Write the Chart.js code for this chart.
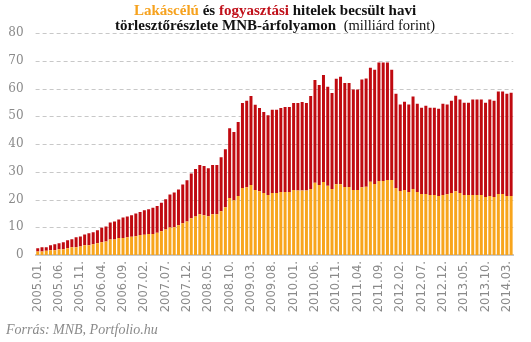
<!DOCTYPE html>
<html>
<head>
<meta charset="utf-8">
<script src="https://cdn.jsdelivr.net/npm/chart.js@4"></script>
<style>
  html, body { margin: 0; padding: 0; background: #fff; }
  #wrap { position: relative; width: 531px; height: 342px; overflow: hidden; }
  #c { position: absolute; left: 0; top: 0; }
  #title { position: absolute; left: 0; top: 3px; width: 550px; text-align: center;
           font-family: "Liberation Serif", serif; font-size: 15px; line-height: 15px; color: #111; font-weight: bold; }
  #title .h { color: #F6A21E; }
  #title .c { color: #C0101A; }
  #title .n { font-weight: normal; font-size: 14.5px; }
  #src { position: absolute; left: 6px; top: 322px; font-family: "Liberation Serif", serif; font-style: italic;
         font-size: 14px; color: #8a8a8a; }
</style>
</head>
<body>
<div id="wrap">
  <canvas id="c" width="531" height="342"></canvas>
  <div id="title"><span class="h">Lakáscélú</span> és <span class="c">fogyasztási</span> hitelek becsült havi<br>törlesztőrészlete MNB-árfolyamon &nbsp;<span class="n">(milliárd forint)</span></div>
  <div id="src">Forrás: MNB, Portfolio.hu</div>
</div>
<script>
// Categories: monthly, 2005.01. – 2014.04.
const startYear = 2005;
const monthCount = 112;
const months = [];
for (let i = 0; i < monthCount; i++) {
  const y = startYear + Math.floor(i / 12);
  const m = (i % 12) + 1;
  months.push(y + "." + (m < 10 ? "0" + m : m) + ".");
}
const tickStep = 5;
const yTicks = [0, 10, 20, 30, 40, 50, 60, 70, 80];

// Lakáscélú (housing) monthly repayment, bn HUF
const housing = [
  1.3, 1.3, 1.5, 1.7, 1.7, 2.1, 2.1, 2.4, 2.8, 2.8, 3.1, 3.5,
  3.5, 3.9, 4.2, 4.6, 4.9, 5.6, 5.6, 6.1, 6.1, 6.4, 6.6, 6.8,
  7.2, 7.3, 7.6, 7.6, 8.0, 8.6, 9.2, 9.9, 10.0, 10.7, 11.4, 12.1,
  13.2, 13.9, 14.7, 14.3, 14.0, 14.7, 14.7, 15.8, 17.2, 20.5, 19.7, 21.3,
  24.1, 24.4, 25.2, 23.4, 23.0, 22.3, 21.6, 22.3, 22.3, 22.7, 22.7, 22.7,
  23.4, 23.2, 23.2, 23.2, 23.8, 26.0, 25.2, 26.3, 25.0, 23.8, 25.5, 25.5,
  24.5, 24.5, 23.4, 23.4, 24.4, 24.6, 26.4, 25.6, 26.7, 26.7, 27.0, 27.0,
  24.1, 23.1, 23.4, 22.7, 23.8, 22.7, 22.0, 22.0, 21.6, 21.6, 21.3, 21.6,
  21.9, 22.3, 23.0, 22.3, 21.6, 21.6, 21.6, 21.6, 21.6, 20.9, 21.3, 20.9,
  22.0, 22.0, 21.3, 21.3
];
// Fogyasztási (consumer) monthly repayment, bn HUF
const consumer = [
  1.1, 1.5, 1.3, 1.8, 2.2, 2.1, 2.5, 2.9, 2.9, 3.6, 3.6, 3.9,
  4.3, 4.3, 4.7, 5.2, 5.4, 6.1, 6.5, 6.7, 7.4, 7.5, 7.7, 8.2,
  8.3, 8.8, 8.9, 9.4, 9.7, 10.2, 10.9, 11.9, 12.5, 12.9, 14.0, 14.8,
  16.2, 17.1, 17.7, 17.8, 17.3, 17.7, 17.7, 19.4, 20.9, 25.2, 24.6, 26.6,
  30.7, 31.2, 32.1, 30.7, 30.0, 29.2, 28.8, 30.0, 30.0, 30.3, 30.6, 30.6,
  31.4, 31.6, 31.9, 31.6, 33.5, 37.1, 36.1, 38.6, 35.6, 34.6, 38.0, 38.7,
  37.5, 37.5, 36.2, 36.2, 38.8, 39.0, 41.1, 41.2, 42.7, 42.7, 42.4, 39.8,
  34.0, 31.1, 31.8, 31.5, 33.3, 31.8, 31.1, 31.8, 31.5, 31.5, 31.4, 32.9,
  32.3, 33.3, 34.4, 33.7, 33.3, 33.3, 34.4, 34.4, 34.4, 34.0, 34.7, 34.7,
  36.9, 36.9, 36.8, 37.2
];

// dashed horizontal grid lines, placed by the y scale
const dashedGrid = {
  id: 'dashedGrid',
  beforeDatasetsDraw(chart) {
    const { ctx, chartArea, scales } = chart;
    const ys = scales.y;
    ctx.save();
    ctx.strokeStyle = '#c8c8c8';
    ctx.lineWidth = 1;
    ctx.setLineDash([4, 3]);
    ys.ticks.forEach(t => {
      if (t.value === 0) return;
      const py = Math.round(ys.getPixelForValue(t.value)) + 0.5;
      ctx.beginPath();
      ctx.moveTo(chartArea.left, py);
      ctx.lineTo(chartArea.right, py);
      ctx.stroke();
    });
    ctx.restore();
  }
};

const ctx = document.getElementById('c').getContext('2d');
new Chart(ctx, {
  type: 'bar',
  data: {
    labels: months,
    datasets: [
      { label: 'Lakáscélú', data: housing, backgroundColor: '#F8A51C', borderWidth: 0,
        barPercentage: 0.7, categoryPercentage: 1.0 },
      { label: 'Fogyasztási', data: consumer, backgroundColor: '#C00A10', borderWidth: 0,
        barPercentage: 0.7, categoryPercentage: 1.0 }
    ]
  },
  plugins: [dashedGrid],
  options: {
    responsive: false,
    animation: false,
    devicePixelRatio: 1,
    layout: { padding: { top: 33, left: 0, right: 15, bottom: 0 } },
    plugins: { legend: { display: false }, title: { display: false }, tooltip: { enabled: false } },
    scales: {
      x: {
        stacked: true,
        afterFit: (s) => { s.height = 87; },
        grid: { display: false, drawTicks: false },
        border: { display: true, color: '#c8c8c8', width: 2 },
        ticks: {
          autoSkip: false, minRotation: 90, maxRotation: 90, padding: 6,
          color: '#8a8a8a', font: { family: 'DejaVu Sans', size: 11.5 },
          callback: function (v, i) { return i % tickStep === 0 ? months[i] : ''; }
        }
      },
      y: {
        stacked: true,
        min: 0, max: 80,
        afterFit: (s) => { s.width = 35.6; },
        afterBuildTicks: (s) => { s.ticks = yTicks.map(v => ({ value: v })); },
        grid: { display: false, drawTicks: false },
        border: { display: false },
        ticks: { padding: 12, color: '#8a8a8a', font: { family: 'DejaVu Serif', size: 12 } }
      }
    }
  }
});
</script>
</body>
</html>
